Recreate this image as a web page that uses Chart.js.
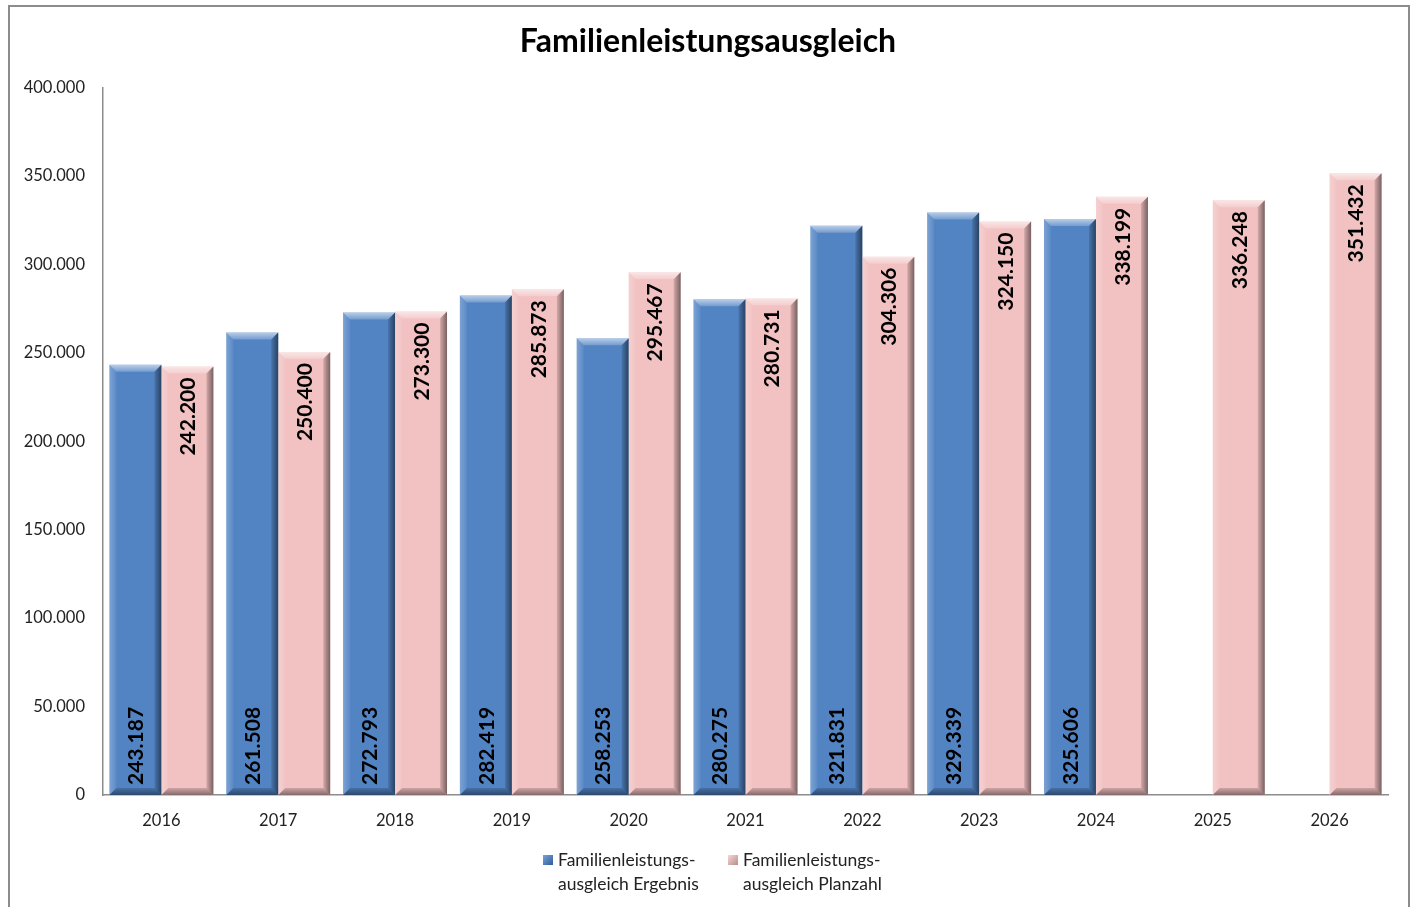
<!DOCTYPE html>
<html><head><meta charset="utf-8">
<script src="https://cdn.jsdelivr.net/npm/chart.js@4"></script>
<style>
html,body{margin:0;padding:0;background:#fff;}
#wrap{position:relative;width:1416px;height:907px;overflow:hidden;}
#frame{position:absolute;left:8px;top:5px;width:1402px;height:1000px;border:2px solid #8c8c8c;box-sizing:border-box;pointer-events:none;}
canvas{position:absolute;left:0;top:0;}
#legend{position:absolute;top:848px;left:0;width:1416px;font-family:Lato,"Liberation Sans",sans-serif;font-size:17.5px;color:#222;}
.li{position:absolute;line-height:24px;}
.li .sw{position:absolute;left:-15px;top:7px;width:10px;height:10px;}
</style></head>
<body><div id="wrap"><canvas id="c" width="1416" height="907"></canvas><div id="frame"></div>
<div id="legend">
 <div class="li" style="left:558px"><span class="sw" id="sw0"></span>Familienleistungs-<br>ausgleich Ergebnis</div>
 <div class="li" style="left:743px"><span class="sw" id="sw1"></span>Familienleistungs-<br>ausgleich Planzahl</div>
</div></div>
<script>
const title = "Familienleistungsausgleich";
const categories = ["2016","2017","2018","2019","2020","2021","2022","2023","2024","2025","2026"];
const seriesNames = ["Familienleistungs-ausgleich Ergebnis","Familienleistungs-ausgleich Planzahl"];
const ergebnis = [243187,261508,272793,282419,258253,280275,321831,329339,325606,null,null];
const planzahl = [242200,250400,273300,285873,295467,280731,304306,324150,338199,336248,351432];
const yTicks = [0,50000,100000,150000,200000,250000,300000,350000,400000];
const colors = ["#5284c4","#f2c1c1"];

document.getElementById('sw0').style.background = "linear-gradient(135deg,#7aa2d8,#2f5d99)";
document.getElementById('sw1').style.background = "linear-gradient(135deg,#f7d6d6,#b88c8c)";

const fmt = v => v.toLocaleString('de-DE');

const bevel = {
  id:'bevel',
  afterDatasetsDraw(chart){
    const ctx = chart.ctx;
    chart.data.datasets.forEach((ds,di)=>{
      const meta = chart.getDatasetMeta(di);
      meta.data.forEach((el,i)=>{
        if(ds.data[i]==null) return;
        const w = el.width, l = el.x - w/2, r = el.x + w/2, t = el.y, b = el.base, s = 7;
        ctx.save();
        let g = ctx.createLinearGradient(0,t,0,t+s);
        g.addColorStop(0,'rgba(255,255,255,0.6)'); g.addColorStop(1,'rgba(255,255,255,0.2)');
        ctx.fillStyle=g; ctx.beginPath(); ctx.moveTo(l,t); ctx.lineTo(r,t); ctx.lineTo(r-s,t+s); ctx.lineTo(l+s,t+s); ctx.closePath(); ctx.fill();
        g = ctx.createLinearGradient(l,0,l+s,0);
        g.addColorStop(0,'rgba(255,255,255,0.25)'); g.addColorStop(1,'rgba(255,255,255,0.05)');
        ctx.fillStyle=g; ctx.beginPath(); ctx.moveTo(l,t); ctx.lineTo(l+s,t+s); ctx.lineTo(l+s,b-s); ctx.lineTo(l,b); ctx.closePath(); ctx.fill();
        g = ctx.createLinearGradient(r-s,0,r,0);
        g.addColorStop(0,'rgba(0,0,0,0.12)'); g.addColorStop(1,'rgba(0,0,0,0.5)');
        ctx.fillStyle=g; ctx.beginPath(); ctx.moveTo(r,t); ctx.lineTo(r-s,t+s); ctx.lineTo(r-s,b-s); ctx.lineTo(r,b); ctx.closePath(); ctx.fill();
        g = ctx.createLinearGradient(0,b-s,0,b);
        g.addColorStop(0,'rgba(0,0,0,0.15)'); g.addColorStop(1,'rgba(0,0,0,0.45)');
        ctx.fillStyle=g; ctx.beginPath(); ctx.moveTo(l,b); ctx.lineTo(r,b); ctx.lineTo(r-s,b-s); ctx.lineTo(l+s,b-s); ctx.closePath(); ctx.fill();
        ctx.restore();
      });
    });
  }
};

const labels = {
  id:'vlabels',
  afterDatasetsDraw(chart){
    const ctx = chart.ctx;
    ctx.save();
    ctx.font = 'bold 21px Lato, "Liberation Sans", sans-serif';
    ctx.fillStyle = '#000';
    ctx.textBaseline = 'middle';
    chart.data.datasets.forEach((ds,di)=>{
      const meta = chart.getDatasetMeta(di);
      meta.data.forEach((el,i)=>{
        const v = ds.data[i]; if(v==null) return;
        ctx.save();
        if(di===0){ ctx.translate(el.x, el.base-10); ctx.rotate(-Math.PI/2); ctx.textAlign='left'; }
        else { ctx.translate(el.x, el.y+11); ctx.rotate(-Math.PI/2); ctx.textAlign='right'; }
        ctx.fillText(fmt(v),0,1);
        ctx.restore();
      });
    });
    ctx.restore();
  }
};

new Chart(document.getElementById('c'),{
  type:'bar',
  data:{labels:categories,datasets:[
    {label:seriesNames[0],data:ergebnis,backgroundColor:colors[0],borderWidth:0},
    {label:seriesNames[1],data:planzahl,backgroundColor:colors[1],borderWidth:0}
  ]},
  options:{
    responsive:false,animation:false,
    layout:{padding:{left:0,right:0,top:0,bottom:0}},
    datasets:{bar:{categoryPercentage:0.89,barPercentage:1.0,skipNull:false}},
    plugins:{
      legend:{display:false},tooltip:{enabled:false},
      title:{display:true,text:title,color:'#000',font:{family:'Lato, "Liberation Sans", sans-serif',size:32,weight:'bold'},padding:{top:22,bottom:27}}
    },
    scales:{
      x:{grid:{display:false,drawTicks:false},border:{display:true,color:'#8c8c8c',width:1.5},
         ticks:{color:'#222',font:{family:'Lato, "Liberation Sans", sans-serif',size:16.5},padding:16},
         afterFit(s){s.height=112;}},
      y:{min:0,max:400000,grid:{display:false,drawTicks:false},border:{display:true,color:'#8c8c8c',width:1.5},
         afterBuildTicks(s){s.ticks=yTicks.map(v=>({value:v}));},
         ticks:{color:'#222',font:{family:'Lato, "Liberation Sans", sans-serif',size:16.5},padding:18,callback:v=>fmt(v)},
         afterFit(s){s.width=103;}},
      yPad:{position:'right',display:true,min:0,max:1,grid:{display:false,drawTicks:false},border:{display:false},
         ticks:{display:false},afterFit(s){s.width=28;}}
    }
  },
  plugins:[bevel,labels]
});
</script></body></html>
